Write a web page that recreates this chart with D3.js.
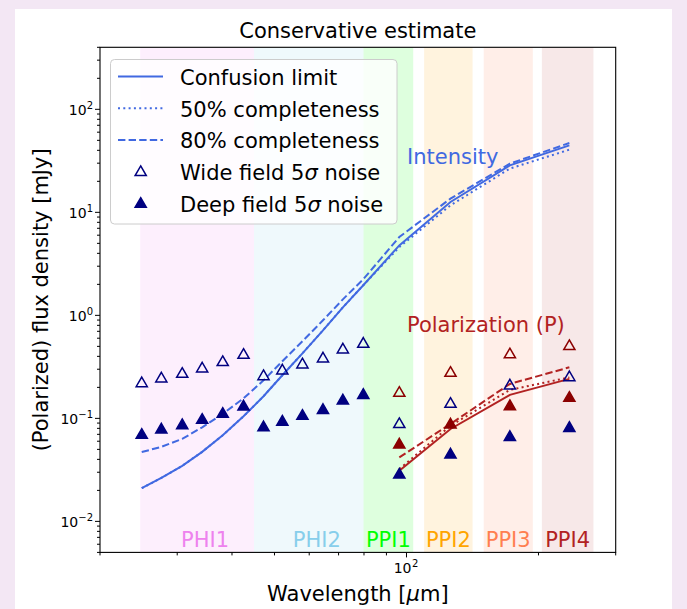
<!DOCTYPE html>
<meta charset="utf-8">
<head>
<style>
  body { margin: 0; background: #f3e7f4; }
  text { font-family: "DejaVu Sans", sans-serif; }
</style>
</head>
<body>
  <script src="https://d3js.org/d3.v7.min.js"></script>
  <script>
    // band centres (micron)
    var phiWave = [24.9, 27.6, 30.8, 34.2, 38.1, 42.5, 47.2, 52.1, 57.9, 64.5, 71.6, 79.7];
    var ppiWave = [96.3, 126.0, 172.1, 235.2];
    var allWave = phiWave.concat(ppiWave);

    // bands: name, lo, hi, colour
    var bandNames = ["PHI1", "PHI2", "PPI1", "PPI2", "PPI3", "PPI4"];
    var bandLo = [24.7, 44.9, 79.8, 109.7, 150.0, 203.6];
    var bandHi = [44.9, 79.8, 103.6, 141.5, 194.1, 266.9];
    var bandColors = ["violet", "skyblue", "lime", "orange", "coral", "firebrick"];

    // intensity (mJy)
    var confI = [0.0210, 0.0264, 0.0346, 0.0473, 0.0685, 0.1047, 0.164, 0.262, 0.428, 0.716, 1.196, 1.96, 4.78, 12.6, 28.6, 44.7];
    var comp50I = [0.0210, 0.0264, 0.0346, 0.0473, 0.0685, 0.1047, 0.164, 0.262, 0.428, 0.716, 1.196, 1.96, 4.60, 11.7, 26.6, 40.6];
    var comp80I = [0.0471, 0.0529, 0.0633, 0.0818, 0.1106, 0.1564, 0.234, 0.358, 0.560, 0.895, 1.43, 2.24, 5.76, 13.6, 29.7, 47.1];
    var wideI = [0.222, 0.247, 0.274, 0.309, 0.356, 0.419, 0.260, 0.295, 0.338, 0.386, 0.472, 0.536, 0.089, 0.140, 0.211, 0.254];
    var deepI = [0.070, 0.079, 0.087, 0.098, 0.112, 0.132, 0.083, 0.094, 0.107, 0.122, 0.151, 0.171, 0.0288, 0.0451, 0.0668, 0.0818];

    // polarization (mJy)
    var confP = [0.0310, 0.0789, 0.169, 0.2416];
    var comp50P = [0.0322, 0.0849, 0.189, 0.250];
    var comp80P = [0.0418, 0.0883, 0.216, 0.313];
    var wideP = [0.179, 0.280, 0.423, 0.509];
    var deepP = [0.0564, 0.0883, 0.133, 0.160];

    var W = 687, H = 609;
    var pLeft = 100, pRight = 615.7, pTop = 47.3, pBottom = 552.4;

    var svg = d3.select("body").append("svg")
      .attr("width", W).attr("height", H);

    svg.append("rect").attr("x", 15).attr("y", 9).attr("width", 657).attr("height", 600)
      .attr("fill", "white");

    var x = d3.scaleLog().domain([20, 300]).range([pLeft, pRight]);
    var y = d3.scaleLog().domain([0.005, 400]).range([pBottom, pTop]);

    var plot = svg.append("g");

    // shaded bands
    bandNames.forEach(function (b, i) {
      plot.append("rect")
        .attr("x", x(bandLo[i])).attr("y", pTop)
        .attr("width", x(bandHi[i]) - x(bandLo[i])).attr("height", pBottom - pTop)
        .attr("fill", bandColors[i]).attr("fill-opacity", i == 5 ? 0.1 : 0.13);
      plot.append("text")
        .attr("x", (x(bandLo[i]) + x(bandHi[i])) / 2 + (i < 2 ? 8 : 0))
        .attr("y", 547.3)
        .attr("text-anchor", "middle")
        .style("font-size", "21px")
        .attr("fill", bandColors[i])
        .text(b);
    });

    function pts(xs, ys) { return xs.map(function (d, i) { return [d, ys[i]]; }); }

    var line = d3.line().x(function (d) { return x(d[0]); }).y(function (d) { return y(d[1]); });

    var dashes = { solid: null, dotted: "2,3.3", dashed: "7.4,3.2" };

    function drawLine(data, color, style) {
      plot.append("path")
        .datum(data)
        .attr("d", line)
        .attr("fill", "none")
        .attr("stroke", color)
        .attr("stroke-width", 2)
        .attr("stroke-dasharray", dashes[style]);
    }

    drawLine(pts(allWave, confI), "royalblue", "solid");
    drawLine(pts(allWave, comp50I), "royalblue", "dotted");
    drawLine(pts(allWave, comp80I), "royalblue", "dashed");
    drawLine(pts(ppiWave, confP), "firebrick", "solid");
    drawLine(pts(ppiWave, comp50P), "firebrick", "dotted");
    drawLine(pts(ppiWave, comp80P), "firebrick", "dashed");

    var tri = d3.symbol().type(d3.symbolTriangle).size(54);

    function drawMarkers(data, color, filled) {
      plot.append("g").selectAll("path")
        .data(data)
        .enter().append("path")
        .attr("d", tri)
        .attr("transform", function (d) { return "translate(" + x(d[0]) + "," + (y(d[1]) + 0.8) + ")"; })
        .attr("fill", filled ? color : "white")
        .attr("fill-opacity", filled ? 1 : 0)
        .attr("stroke", color)
        .attr("stroke-width", 1.5);
    }

    drawMarkers(pts(allWave, wideI), "navy", false);
    drawMarkers(pts(allWave, deepI), "navy", true);
    drawMarkers(pts(ppiWave, wideP), "darkred", false);
    drawMarkers(pts(ppiWave, deepP), "darkred", true);

    // annotations
    plot.append("text").attr("x", 407).attr("y", 164).attr("fill", "royalblue")
      .style("font-size", "21px").text("Intensity");
    plot.append("text").attr("x", 407).attr("y", 332).attr("fill", "firebrick")
      .style("font-size", "21px").text("Polarization (P)");

    // frame
    svg.append("rect").attr("x", pLeft).attr("y", pTop)
      .attr("width", pRight - pLeft).attr("height", pBottom - pTop)
      .attr("fill", "none").attr("stroke", "black").attr("stroke-width", 1.1);

    // ticks
    var xMinor = [20, 30, 40, 50, 60, 70, 80, 90, 200, 300];
    var yMajor = [0.01, 0.1, 1, 10, 100];
    var yMinor = [];
    [0.001, 0.01, 0.1, 1, 10, 100].forEach(function (p) {
      for (var k = 2; k <= 9; k++) {
        var v = k * p;
        if (v >= 0.005 && v <= 400) yMinor.push(v);
      }
    });

    var ax = svg.append("g").attr("stroke", "black");
    ax.selectAll(".xm").data(xMinor).enter().append("line")
      .attr("x1", function (d) { return x(d); }).attr("x2", function (d) { return x(d); })
      .attr("y1", pBottom).attr("y2", pBottom + 3);
    ax.append("line").attr("x1", x(100)).attr("x2", x(100)).attr("y1", pBottom).attr("y2", pBottom + 5);
    ax.selectAll(".ym").data(yMinor).enter().append("line")
      .attr("y1", function (d) { return y(d); }).attr("y2", function (d) { return y(d); })
      .attr("x1", pLeft).attr("x2", pLeft - 3);
    ax.selectAll(".yM").data(yMajor).enter().append("line")
      .attr("y1", function (d) { return y(d); }).attr("y2", function (d) { return y(d); })
      .attr("x1", pLeft).attr("x2", pLeft - 5);

    function powLabel(sel, e) {
      sel.append("tspan").text("10");
      sel.append("tspan").attr("dy", -6).style("font-size", "10px").text(e);
    }

    // x tick label 10^2, placed piecewise around the tick
    svg.append("text").attr("x", x(100) + 5).attr("y", 572.7)
      .attr("text-anchor", "end").style("font-size", "14px").text("10");
    svg.append("text").attr("x", x(100) + 5.5).attr("y", 566.7)
      .style("font-size", "10px").text("2");

    yMajor.forEach(function (v) {
      var e = Math.round(Math.log10(v));
      var t = svg.append("text").attr("x", 93).attr("y", y(v) + 6)
        .attr("text-anchor", "end").style("font-size", "14px");
      powLabel(t, e < 0 ? "\u2212" + (-e) : String(e));
    });

    // axis titles
    var xt = svg.append("text").attr("x", (pLeft + pRight) / 2).attr("y", 601.4)
      .attr("text-anchor", "middle").style("font-size", "21px");
    xt.append("tspan").text("Wavelength [");
    xt.append("tspan").style("font-style", "italic").text("\u03bc");
    xt.append("tspan").text("m]");

    svg.append("text")
      .attr("transform", "translate(48," + ((pTop + pBottom) / 2) + ") rotate(-90)")
      .attr("text-anchor", "middle").style("font-size", "21px")
      .text("(Polarized) flux density [mJy]");

    svg.append("text").attr("x", (pLeft + pRight) / 2).attr("y", 38)
      .attr("text-anchor", "middle").style("font-size", "21px")
      .text("Conservative estimate");

    // legend
    var lg = svg.append("g");
    lg.append("rect").attr("x", 110.5).attr("y", 59.5).attr("width", 286.5).attr("height", 164.5)
      .attr("rx", 4).attr("fill", "white").attr("fill-opacity", 0.8)
      .attr("stroke", "#cccccc").attr("stroke-width", 1);

    var legLabels = ["Confusion limit", "50% completeness", "80% completeness", "Wide field 5", "Deep field 5"];
    var legStyles = ["solid", "dotted", "dashed", "open", "filled"];
    legLabels.forEach(function (lab, i) {
      var by = 85 + i * 31.7;
      var cy = by - 8.5;
      if (i < 3) {
        lg.append("line").attr("x1", 118).attr("x2", 163).attr("y1", cy).attr("y2", cy)
          .attr("stroke", "royalblue").attr("stroke-width", 2)
          .attr("stroke-dasharray", dashes[legStyles[i]]);
      } else {
        lg.append("path").attr("d", tri)
          .attr("transform", "translate(140.7," + (cy + 0.8) + ")")
          .attr("fill", i == 4 ? "navy" : "white")
          .attr("stroke", "navy").attr("stroke-width", 1.5);
      }
      var t = lg.append("text").attr("x", 180).attr("y", by).style("font-size", "21px");
      t.append("tspan").text(lab);
      if (i >= 3) {
        t.append("tspan").style("font-style", "italic").text("\u03c3");
        t.append("tspan").text(" noise");
      }
    });
  </script>
</body>
</html>
